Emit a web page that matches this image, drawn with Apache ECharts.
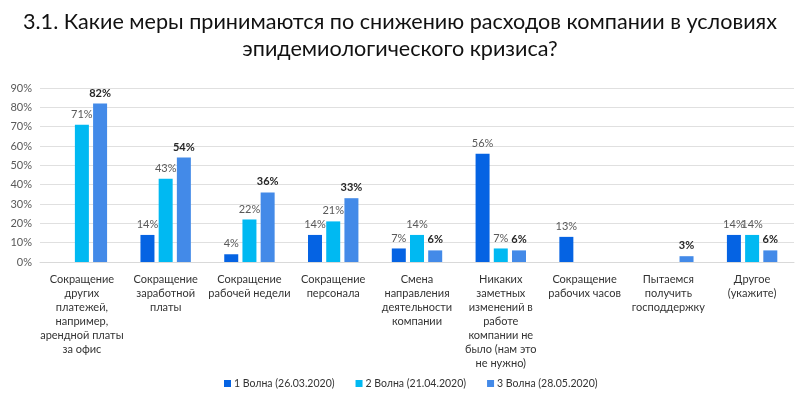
<!DOCTYPE html>
<html><head><meta charset="utf-8">
<script src="https://cdn.jsdelivr.net/npm/echarts@6/dist/echarts.min.js"></script>
<style>html,body{margin:0;padding:0;background:#fff}#c{width:800px;height:395px}</style>
</head><body><div id="c"></div>
<script>
const titleLines = ['3.1. Какие меры принимаются по снижению расходов компании в условиях', 'эпидемиологического кризиса?'];
const categories = [
  'Сокращение\nдругих\nплатежей,\nнапример,\nарендной платы\nза офис',
  'Сокращение\nзаработной\nплаты',
  'Сокращение\nрабочей недели',
  'Сокращение\nперсонала',
  'Смена\nнаправления\nдеятельности\nкомпании',
  'Никаких\nзаметных\nизменений в\nработе\nкомпании не\nбыло (нам это\nне нужно)',
  'Сокращение\nрабочих часов',
  'Пытаемся\nполучить\nгосподдержку',
  'Другое\n(укажите)'
];
const seriesNames = ['1 Волна (26.03.2020)', '2 Волна (21.04.2020)', '3 Волна (28.05.2020)'];
const wave1 = [null, 14, 4, 14, 7, 56, 13, null, 14];
const wave2 = [71, 43, 22, 21, 14, 7, null, null, 14];
const wave3 = [82, 54, 36, 33, 6, 6, null, 3, 6];
const yTicks = [0, 10, 20, 30, 40, 50, 60, 70, 80, 90];

const colors = ['#0563E3', '#00B9F2', '#438AE8'];
const labelColors = ['#595959', '#595959', '#262626'];
const FONT = 'Lato, "Open Sans", sans-serif';
const chart = echarts.init(document.getElementById('c'), null, {renderer: 'canvas'});
const data = [wave1, wave2, wave3];
chart.setOption({
  animation: false,
  textStyle: {fontFamily: FONT},
  title: {
    text: titleLines.join('\n'),
    left: 'center', top: 4,
    textStyle: {fontFamily: FONT, fontSize: 21.6, fontWeight: 'normal', color: '#111', lineHeight: 27}
  },
  legend: {
    bottom: 1, left: 219,
    itemWidth: 7, itemHeight: 7, itemGap: 21, icon: 'rect',
    textStyle: {fontFamily: FONT, fontSize: 10.5, color: '#333', padding: [0,0,0,-2]},
    data: seriesNames
  },
  grid: {left: 40, right: 6, top: 88, bottom: 133, containLabel: false},
  xAxis: {
    type: 'category', data: categories,
    axisLine: {lineStyle: {color: '#d9d9d9'}},
    axisTick: {show: false},
    axisLabel: {interval: 0, fontFamily: FONT, fontSize: 11, color: '#333', lineHeight: 14, margin: 10}
  },
  yAxis: {
    type: 'value', min: 0, max: 90, interval: 10,
    axisLabel: {fontFamily: FONT, fontSize: 11, color: '#595959', formatter: v => yTicks.includes(v) ? v + '%' : ''},
    splitLine: {lineStyle: {color: '#e0e0e0'}},
    axisLine: {show: false}, axisTick: {show: false}
  },
  series: data.map((d, i) => ({
    name: seriesNames[i], type: 'bar', data: d,
    barWidth: 14, barGap: '30%',
    itemStyle: {color: colors[i]},
    label: {show: true, position: 'top', distance: 5, formatter: p => p.value == null ? '' : p.value + '%',
      fontFamily: FONT, fontSize: 11, color: labelColors[i], fontWeight: i === 2 ? 'bold' : 'normal'}
  }))
});
</script></body></html>
